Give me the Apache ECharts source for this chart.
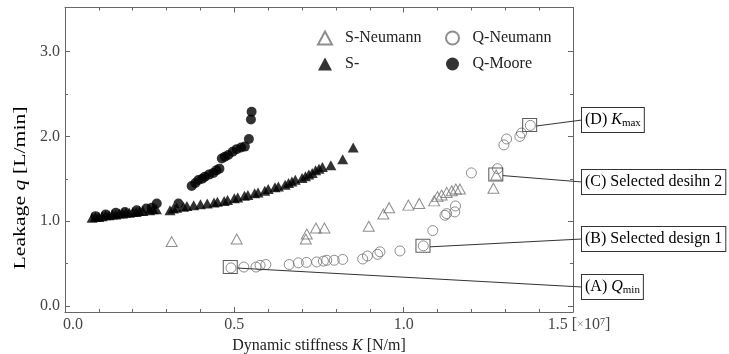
<!DOCTYPE html>
<html>
<head>
<meta charset="utf-8">
<script src="https://cdn.jsdelivr.net/npm/echarts@6/dist/echarts.min.js"></script>
<style>
    html, body { margin: 0; padding: 0; background: #fff; }
    #chart { width: 729px; height: 354px; }
</style>
</head>
<body>
<div id="chart"></div>
<script>
/* ===================== 数据 ===================== */
// [K (x10^7 N/m), q (L/min)]
var sNeumann = [
    [0.315, 0.76], [0.507, 0.79], [0.711, 0.79], [0.714, 0.85], [0.741, 0.92],
    [0.766, 0.92], [0.897, 0.94], [0.940, 1.085], [0.957, 1.16], [1.014, 1.19],
    [1.046, 1.21], [1.090, 1.24], [1.100, 1.29], [1.112, 1.31], [1.127, 1.34],
    [1.142, 1.36], [1.154, 1.38], [1.166, 1.38], [1.265, 1.39], [1.273, 1.545]
];
var sMoore = [
    [0.08, 1.04], [0.09, 1.05], [0.10, 1.05], [0.11, 1.06], [0.12, 1.07],
    [0.13, 1.07], [0.14, 1.08], [0.15, 1.08], [0.16, 1.09], [0.17, 1.09],
    [0.18, 1.10], [0.19, 1.10], [0.20, 1.11], [0.21, 1.11], [0.22, 1.12],
    [0.23, 1.12], [0.25, 1.13], [0.26, 1.14], [0.27, 1.14], [0.31, 1.13],
    [0.32, 1.15], [0.33, 1.16], [0.35, 1.17], [0.36, 1.18], [0.38, 1.19],
    [0.40, 1.20], [0.42, 1.21], [0.44, 1.22], [0.45, 1.23], [0.47, 1.24],
    [0.48, 1.25], [0.50, 1.27], [0.51, 1.28], [0.53, 1.30], [0.54, 1.31],
    [0.56, 1.33], [0.57, 1.34], [0.59, 1.36], [0.60, 1.38], [0.62, 1.40],
    [0.63, 1.41], [0.65, 1.43], [0.66, 1.45], [0.67, 1.47], [0.68, 1.49],
    [0.70, 1.51], [0.71, 1.53], [0.72, 1.55], [0.73, 1.57], [0.74, 1.60],
    [0.75, 1.62], [0.76, 1.64], [0.785, 1.66], [0.82, 1.73], [0.851, 1.87]
];
var qNeumann = [
    [0.490, 0.45], [0.528, 0.46], [0.564, 0.46], [0.576, 0.48], [0.593, 0.49],
    [0.662, 0.49], [0.689, 0.51], [0.713, 0.515], [0.743, 0.52], [0.763, 0.53],
    [0.773, 0.54], [0.795, 0.54], [0.820, 0.55], [0.879, 0.555], [0.893, 0.59],
    [0.923, 0.61], [0.930, 0.64], [0.989, 0.65], [1.058, 0.71], [1.086, 0.89],
    [1.122, 1.07], [1.127, 1.09], [1.151, 1.11], [1.153, 1.18], [1.200, 1.57],
    [1.277, 1.62], [1.296, 1.90], [1.304, 1.97], [1.343, 2.00], [1.348, 2.04],
    [1.374, 2.13]
];
var qMoore = [
    [0.09, 1.06], [0.12, 1.08], [0.15, 1.10], [0.177, 1.11], [0.212, 1.13],
    [0.24, 1.15], [0.256, 1.16], [0.271, 1.21], [0.335, 1.21],
    [0.374, 1.415], [0.385, 1.45], [0.394, 1.486], [0.405, 1.50], [0.413, 1.525],
    [0.425, 1.55], [0.438, 1.57], [0.447, 1.60], [0.456, 1.62], [0.463, 1.74],
    [0.472, 1.76], [0.482, 1.78], [0.495, 1.82], [0.507, 1.85], [0.520, 1.87],
    [0.531, 1.88], [0.543, 1.97], [0.549, 2.20], [0.551, 2.29]
];
// 标注点 (A)~(D)
var selectedPoints = [[0.488, 0.46], [1.057, 0.71], [1.272, 1.55], [1.372, 2.135]];
var selectedLabels = [
    '{r|(A) }{i|Q}{s|min}',
    '{r|(B) Selected design 1}',
    '{r|(C) Selected desihn 2}',
    '{r|(D) }{i|K}{s|max}'
];
var labelCenterY = [287, 239, 182, 120];

var yMajorTicks = [0, 1, 2, 3];
var yMinorTicks = [0.5, 1.5, 2.5];
/* ===================== end ===================== */

var FONT = '"Liberation Serif", "Times New Roman", serif';
var AXIS_COLOR = '#666';
var GRAY = '#707070';

var chart = echarts.init(document.getElementById('chart'));

function yAxisDef(position, ticks, len, showLine, showLabel) {
    return {
        type: 'value',
        position: position,
        min: -0.07,
        max: 3.52,
        axisLine: { show: showLine, lineStyle: { color: AXIS_COLOR, width: 1 } },
        axisTick: { show: true, inside: true, length: len, customValues: ticks,
            lineStyle: { color: AXIS_COLOR } },
        axisLabel: {
            show: showLabel,
            customValues: ticks,
            margin: 5,
            color: '#444',
            fontFamily: FONT,
            fontSize: 16,
            formatter: function (v) { return v.toFixed(1); }
        },
        splitLine: { show: false }
    };
}

function xAxisDef(position, showLabel) {
    return {
        type: 'value',
        position: position,
        min: 0,
        max: 1.5,
        interval: 0.5,
        axisLine: { show: true, onZero: false, lineStyle: { color: AXIS_COLOR, width: 1 } },
        axisTick: { inside: true, length: 5, lineStyle: { color: AXIS_COLOR } },
        minorTick: { show: true, splitNumber: 5, length: 3, lineStyle: { color: AXIS_COLOR } },
        axisLabel: {
            show: showLabel,
            margin: 5,
            color: '#444',
            fontFamily: FONT,
            fontSize: 16,
            formatter: function (v) {
                if (v === 0) return '{z|0.0}';
                if (v === 1.5) return '{n|1.5} [{x|×}10{p|7}]';
                return v.toFixed(1);
            },
            rich: {
                z: { fontFamily: FONT, fontSize: 16, color: '#444', padding: [0, 0, 0, 16] },
                n: { fontFamily: FONT, fontSize: 16, color: '#444', padding: [0, 0, 0, 12] },
                x: { fontFamily: FONT, fontSize: 12, color: '#888' },
                p: { fontFamily: FONT, fontSize: 10, color: '#444', verticalAlign: 'top', padding: [0, 0, 6, 0] }
            }
        },
        splitLine: { show: false }
    };
}

var xBottom = xAxisDef('bottom', true);
xBottom.name = '{n|Dynamic stiffness }{i|K}{n| [N/m]}';
xBottom.nameLocation = 'middle';
xBottom.nameGap = 21;
xBottom.nameTextStyle = {
    verticalAlign: 'top',
    rich: {
        n: { fontFamily: FONT, fontSize: 16, color: '#222' },
        i: { fontFamily: FONT, fontSize: 16, color: '#222', fontStyle: 'italic' }
    }
};

var hollowStyle = { color: 'rgba(0,0,0,0)', borderColor: GRAY, borderWidth: 1 };
var legendText = { fontFamily: FONT, fontSize: 16, color: '#222', padding: [0, 0, 0, 8] };

var option = {
    animation: false,
    backgroundColor: '#fff',
    textStyle: { fontFamily: FONT },
    grid: { left: 65, right: 156, top: 7.5, bottom: 42, containLabel: false, outerBoundsMode: 'none' },
    legend: [{
        data: ['S-Neumann', 'S-'],
        orient: 'vertical',
        left: 312, top: 25,
        itemWidth: 14, itemHeight: 13, itemGap: 10,
        textStyle: legendText
    }, {
        data: ['Q-Neumann', 'Q-Moore'],
        orient: 'vertical',
        left: 440, top: 25,
        itemWidth: 14, itemHeight: 13, itemGap: 10,
        textStyle: legendText
    }],
    xAxis: [xBottom, xAxisDef('top', false)],
    yAxis: [
        yAxisDef('left', yMajorTicks, 5, true, true),
        yAxisDef('left', yMinorTicks, 3, false, false),
        yAxisDef('right', yMajorTicks, 5, true, false),
        yAxisDef('right', yMinorTicks, 3, false, false)
    ],
    series: [{
        name: 'S-Neumann', type: 'scatter', data: sNeumann,
        symbol: 'triangle', symbolSize: [11, 10], itemStyle: hollowStyle
    }, {
        name: 'Q-Neumann', type: 'scatter', data: qNeumann,
        symbol: 'circle', symbolSize: 10, itemStyle: hollowStyle
    }, {
        name: 'S-', type: 'scatter', data: sMoore,
        symbol: 'triangle', symbolSize: [11, 10], itemStyle: { color: '#000' }
    }, {
        name: 'Q-Moore', type: 'scatter', data: qMoore,
        symbol: 'circle', symbolSize: 10, itemStyle: { color: '#000' }
    }, {
        name: 'selected', type: 'scatter', data: selectedPoints,
        symbol: 'rect', symbolSize: [14, 13], z: 5,
        itemStyle: { color: 'rgba(0,0,0,0)', borderColor: '#333', borderWidth: 1 }
    }]
};

chart.setOption(option);

// 标注框和引线
var labelRich = {
    r: { fontFamily: FONT, fontSize: 16, color: '#222', lineHeight: 18 },
    i: { fontFamily: FONT, fontSize: 16, color: '#222', fontStyle: 'italic', lineHeight: 18 },
    s: { fontFamily: FONT, fontSize: 11, color: '#222', verticalAlign: 'bottom', lineHeight: 18 }
};
var boxLeft = 582;
var elements = [];
selectedPoints.forEach(function (p, i) {
    var px = chart.convertToPixel({ xAxisIndex: 0, yAxisIndex: 0 }, p);
    elements.push({
        type: 'line', z: 10,
        shape: { x1: px[0] + 7, y1: px[1] + 1, x2: boxLeft, y2: labelCenterY[i] },
        style: { stroke: '#333', lineWidth: 1 }
    });
    elements.push({
        type: 'text', z: 10, x: boxLeft, y: labelCenterY[i],
        style: {
            text: selectedLabels[i], rich: labelRich,
            align: 'left', verticalAlign: 'middle',
            backgroundColor: '#fff', borderColor: '#333', borderWidth: 1,
            padding: [3, 3, 3, 3]
        }
    });
});

// y轴标题 (原图纵向拉伸)
elements.push({
    type: 'text', x: 21, y: 188, rotation: Math.PI / 2, scaleX: 1.36,
    style: {
        text: '{n|Leakage }{i|q}{n| [L/min]}',
        align: 'center', verticalAlign: 'middle',
        rich: {
            n: { fontFamily: FONT, fontSize: 16, color: '#333' },
            i: { fontFamily: FONT, fontSize: 16, color: '#333', fontStyle: 'italic' }
        }
    }
});
chart.setOption({ graphic: elements });
</script>
</body>
</html>
